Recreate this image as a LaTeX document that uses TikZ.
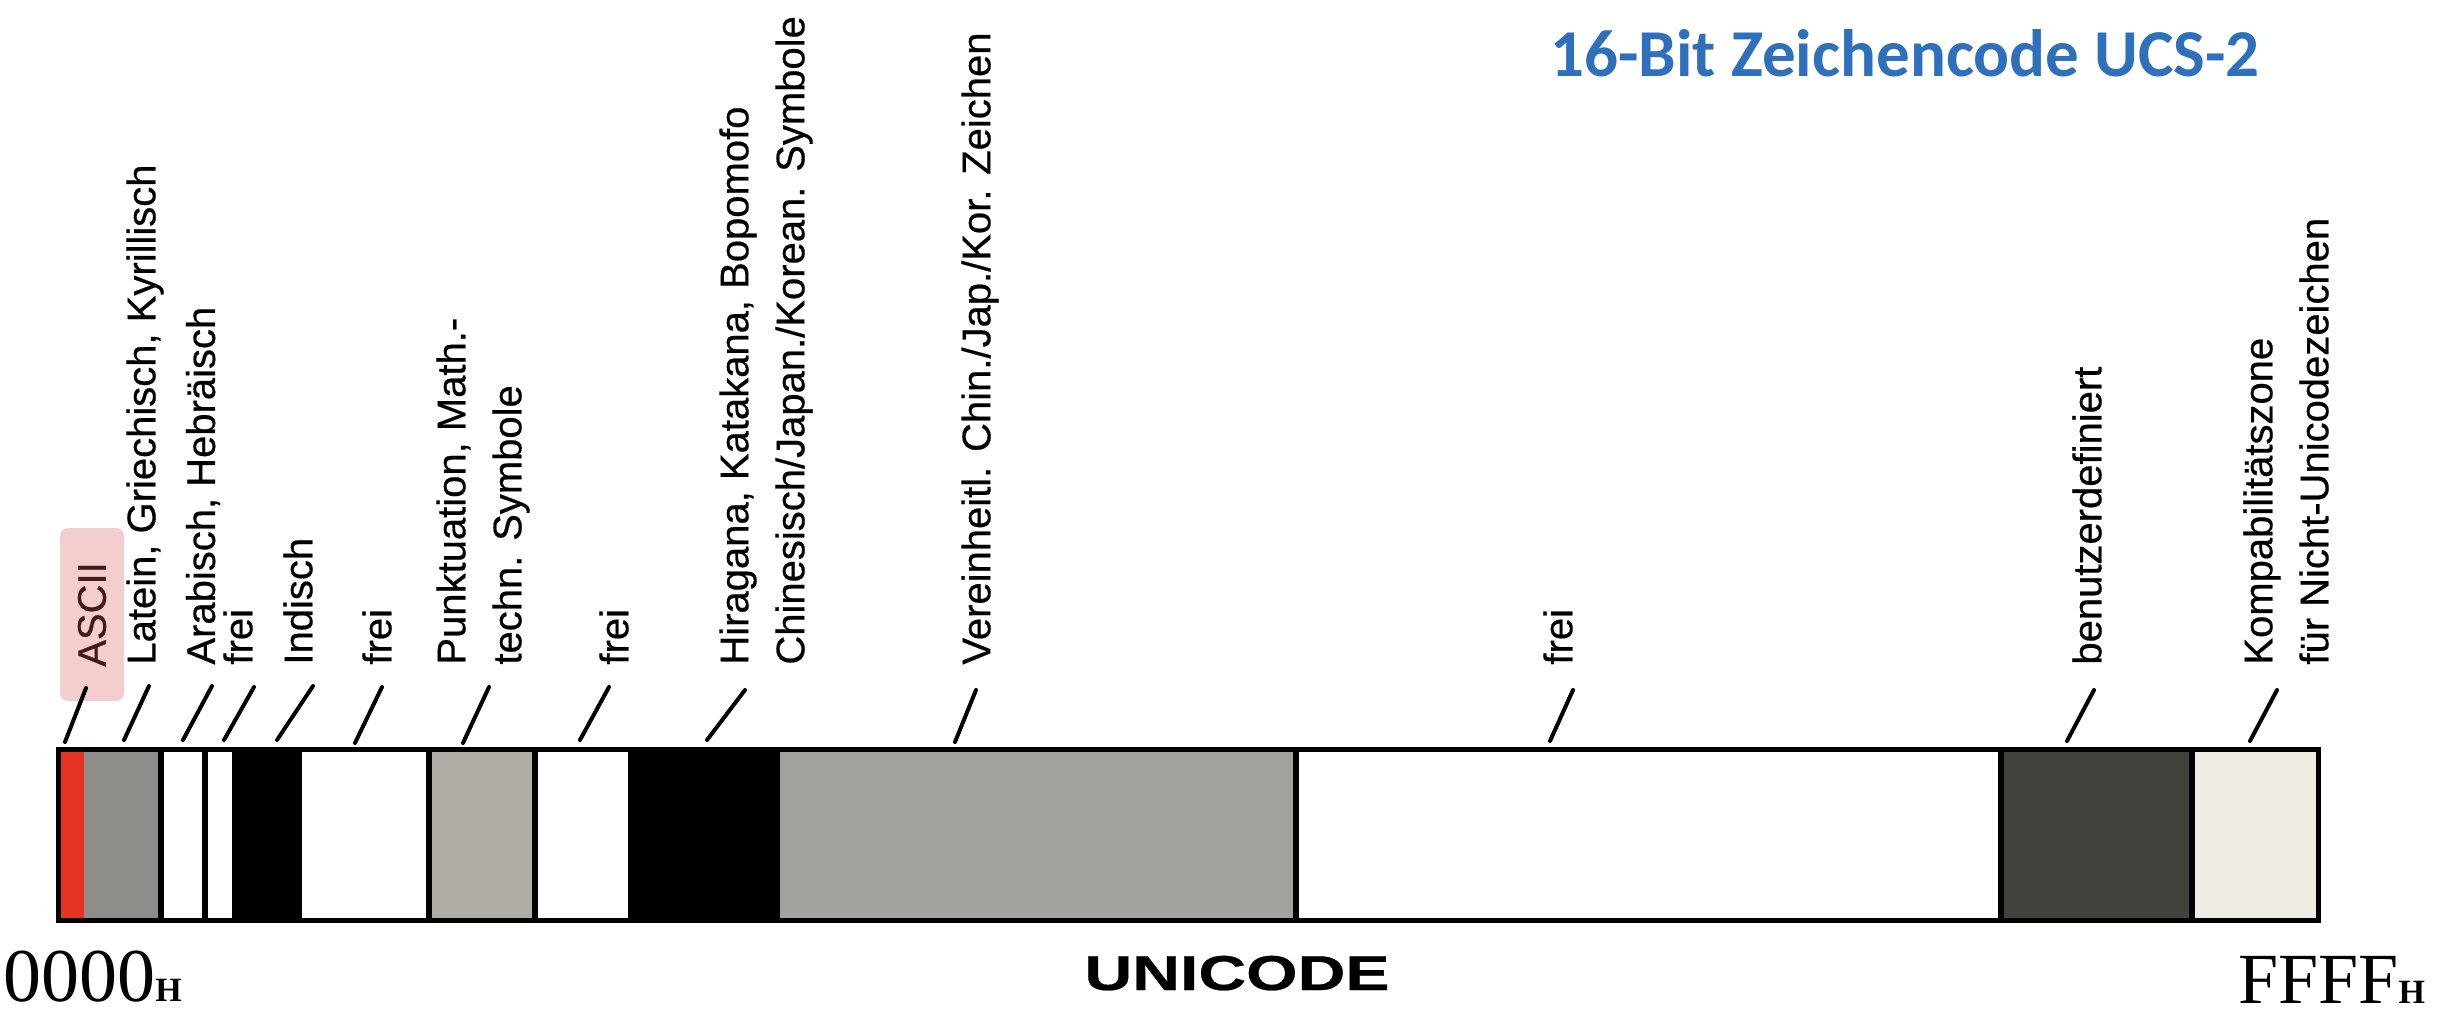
\documentclass[tikz,border=0pt]{standalone}
\usepackage{fontspec}
\usepackage{graphicx}
\newfontfamily\labfont[FakeBold=0.5]{Liberation Sans}
\newfontfamily\seriffont{Liberation Serif}
\newfontfamily\titlefont{Carlito}
\definecolor{titleblue}{RGB}{47,112,189}
\definecolor{asciired}{RGB}{230,51,35}
\definecolor{pinkbox}{RGB}{244,206,206}
\definecolor{grayA}{RGB}{142,141,138}
\definecolor{grayB}{RGB}{176,173,166}
\definecolor{grayC}{RGB}{164,162,158}
\definecolor{darkseg}{RGB}{63,67,59}
\definecolor{lightseg}{RGB}{239,236,228}
\tikzset{
  lbl/.style={rotate=90, anchor=west, inner sep=0pt, align=left,
    font=\labfont\fontsize{20}{28}\selectfont},
  tick/.style={line width=2pt, line cap=round},
  divider/.style={line width=3pt},
}
\begin{document}
\begin{tikzpicture}[x=0.5pt,y=-0.5pt]
\useasboundingbox (0,0) rectangle (2461,1022);
% title
\node[anchor=base east, inner sep=0pt, text=titleblue,
  font=\titlefont\bfseries\fontsize{33.5}{40}\selectfont] (title) at (2260,77) {16-Bit Zeichencode UCS-2};
% bar segments
\fill[asciired] (61,749) rectangle (84,918);
\fill[grayA] (84,749) rectangle (161,920);
\fill[black] (232,749) rectangle (302,920);
\fill[grayB] (429,749) rectangle (534,920);
\fill[black] (628,749) rectangle (780,920);
\fill[grayC] (780,749) rectangle (1296,920);
\fill[darkseg] (2001,749) rectangle (2192,920);
\fill[lightseg] (2192,749) rectangle (2318,920);
% dividers
\foreach \d in {161,204.5,429,534.5,1296,2001,2192}
  \draw[divider] (\d,749) -- (\d,920);
% outer border
\draw[line width=2.5pt] (58,749) rectangle (2318,920);
% pink ASCII box
\node[rotate=90, fill=pinkbox, rounded corners=4pt, inner sep=0pt,
  minimum width=86.5pt, minimum height=32pt,
  font=\labfont\fontsize{20}{28}\selectfont, text={rgb,255:red,70;green,25;blue,25}] (l1) at (92,614.5) {ASCII};
% labels
\node[lbl] (l2) at (145,665) {Latein, Griechisch, Kyrillisch};
\node[lbl] (l3) at (203,665) {Arabisch, Hebräisch};
\node[lbl] (l4) at (238,665) {frei};
\node[lbl] (l5) at (298,665) {Indisch};
\node[lbl] (l6) at (377,665) {frei};
\node[lbl] (l7) at (483,665) {Punktuation, Math.-\\techn. Symbole};
\node[lbl] (l8) at (614,665) {frei};
\node[lbl] (l9) at (766,665) {Hiragana, Katakana, Bopomofo\\Chinesisch/Japan./Korean. Symbole};
\node[lbl] (l10) at (980,665) {Vereinheitl. Chin./Jap./Kor. Zeichen};
\node[lbl] (l11) at (1558,665) {frei};
\node[lbl] (l12) at (2087,665) {benutzerdefiniert};
\node[lbl] (l13) at (2286,665) {Kompabilitätszone\\für Nicht-Unicodezeichen};
% ticks
\foreach \i/\xa/\ya/\xb/\yb in {1/65/742/86/688, 2/124/740/149/686, 3/183/740/212/686,
  4/224/740/254/687, 5/277/740/313/686, 6/355/743/382/687, 7/463/743/489/687,
  8/580/740/609/687, 9/707/740/745/690, 10/955/742/976/690, 11/1550/741/1573/690,
  12/2067/741/2094/690, 13/2250/741/2277/690}{
  \coordinate (ta\i) at (\xa,\ya);
  \coordinate (tb\i) at (\xb,\yb);
  \draw[tick] (ta\i) -- (tb\i);
}
% bottom texts
\node[anchor=base west, inner sep=0pt, font=\seriffont\fontsize{38}{42}\selectfont] (start) at (3,1001) {0000\fontsize{17}{18}\selectfont\bfseries H};
\node[anchor=base west, inner sep=0pt, font=\seriffont\fontsize{36}{42}\selectfont] (end) at (2238,1003) {FFFF\fontsize{17}{18}\selectfont\bfseries H};
\node[anchor=base, inner sep=0pt, font=\labfont\bfseries\fontsize{24.5}{30}\selectfont] (uni) at (1237,990) {\scalebox{1.35}[1]{UNICODE}};
\end{tikzpicture}
\end{document}
